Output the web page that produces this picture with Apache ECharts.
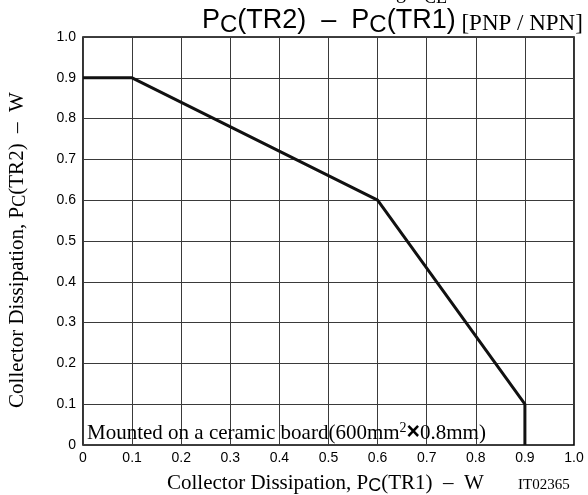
<!DOCTYPE html>
<html><head><meta charset="utf-8">
<script src="https://cdn.jsdelivr.net/npm/echarts@6/dist/echarts.min.js"></script>
<style>html,body{margin:0;padding:0;background:#fff}#c{width:588px;height:495px}</style>
</head><body><div id="c"></div>
<script>
const xValues = [0, 0.1, 0.6, 0.9, 0.9];
const yValues = [0.9, 0.9, 0.6, 0.1, 0];
const xTickLabels = ['0','0.1','0.2','0.3','0.4','0.5','0.6','0.7','0.8','0.9','1.0'];
const yTickLabels = ['0','0.1','0.2','0.3','0.4','0.5','0.6','0.7','0.8','0.9','1.0'];

const chart = echarts.init(document.getElementById('c'), null, {renderer:'canvas'});
const sans = 'Liberation Sans, Arial, sans-serif';
const serif = 'Liberation Serif, Times New Roman, serif';
chart.setOption({
  animation:false,
  grid:{left:83,right:14,top:37,bottom:50,show:true,borderColor:'#000',borderWidth:1.6},
  xAxis:{type:'value',min:0,max:1,interval:0.1,
    axisLine:{show:false},axisTick:{show:false},
    splitLine:{show:true,lineStyle:{color:'#3a3a3a',width:1}},
    axisLabel:{color:'#000',fontFamily:sans,fontSize:14,margin:6,
      formatter:(v)=>xTickLabels[Math.round(v*10)]}},
  yAxis:{type:'value',min:0,max:1,interval:0.1,
    axisLine:{show:false},axisTick:{show:false},
    splitLine:{show:true,lineStyle:{color:'#3a3a3a',width:1}},
    axisLabel:{color:'#000',fontFamily:sans,fontSize:14,margin:7,
      formatter:(v)=>yTickLabels[Math.round(v*10)]}},
  series:[{type:'line',data:xValues.map((x,i)=>[x,yValues[i]]),symbol:'none',
    lineStyle:{color:'#111',width:3},z:5}],
  graphic:[
    {type:'text',x:396,y:-7,style:{text:'g /',verticalAlign:'middle',
      fontFamily:serif,fontSize:20,fill:'#000'}},
    {type:'text',x:424,y:-2,style:{text:'CE',verticalAlign:'middle',
      fontFamily:serif,fontSize:18,fill:'#000'}},
    {type:'text',x:202,y:21,style:{text:'{a|P}{s|C}{a|(TR2)  –  P}{s|C}{a|(TR1)}{b| [PNP / NPN]}',
      verticalAlign:'middle',rich:{
      a:{fontFamily:sans,fontSize:27,fill:'#000'},
      s:{fontFamily:sans,fontSize:24,fill:'#000',padding:[9,0,0,0]},
      b:{fontFamily:serif,fontSize:23,fill:'#000',padding:[5,0,0,0]}}}},
    {type:'text',x:17,y:250,rotation:Math.PI/2,style:{text:'{a|Collector Dissipation, P}{s|C}{a|(TR2)  –  W}',
      align:'center',verticalAlign:'middle',rich:{
      a:{fontFamily:serif,fontSize:21,fill:'#000'},
      s:{fontFamily:serif,fontSize:18,fill:'#000',padding:[7,0,0,0]}}}},
    {type:'text',x:167,y:483,style:{text:'{a|Collector Dissipation, P}{s|C}{a|(TR1)  –  W}',
      verticalAlign:'middle',rich:{
      a:{fontFamily:serif,fontSize:21,fill:'#000'},
      s:{fontFamily:sans,fontSize:18,fill:'#000',padding:[7,0,0,0]}}}},
    {type:'text',x:518,y:485,style:{text:'IT02365',verticalAlign:'middle',
      fontFamily:serif,fontSize:15,fill:'#000'}},
    {type:'text',x:87,y:433,z:10,style:{text:'{a|Mounted on a ceramic board(600mm}{p|2}{x|×}{a|0.8mm)}',
      verticalAlign:'middle',rich:{
      a:{fontFamily:serif,fontSize:21,fill:'#000'},
      p:{fontFamily:serif,fontSize:14,fill:'#000',padding:[0,0,10,0]},
      x:{fontFamily:sans,fontSize:23,fontWeight:'bold',fill:'#000'}}}}
  ]
});
</script></body></html>
